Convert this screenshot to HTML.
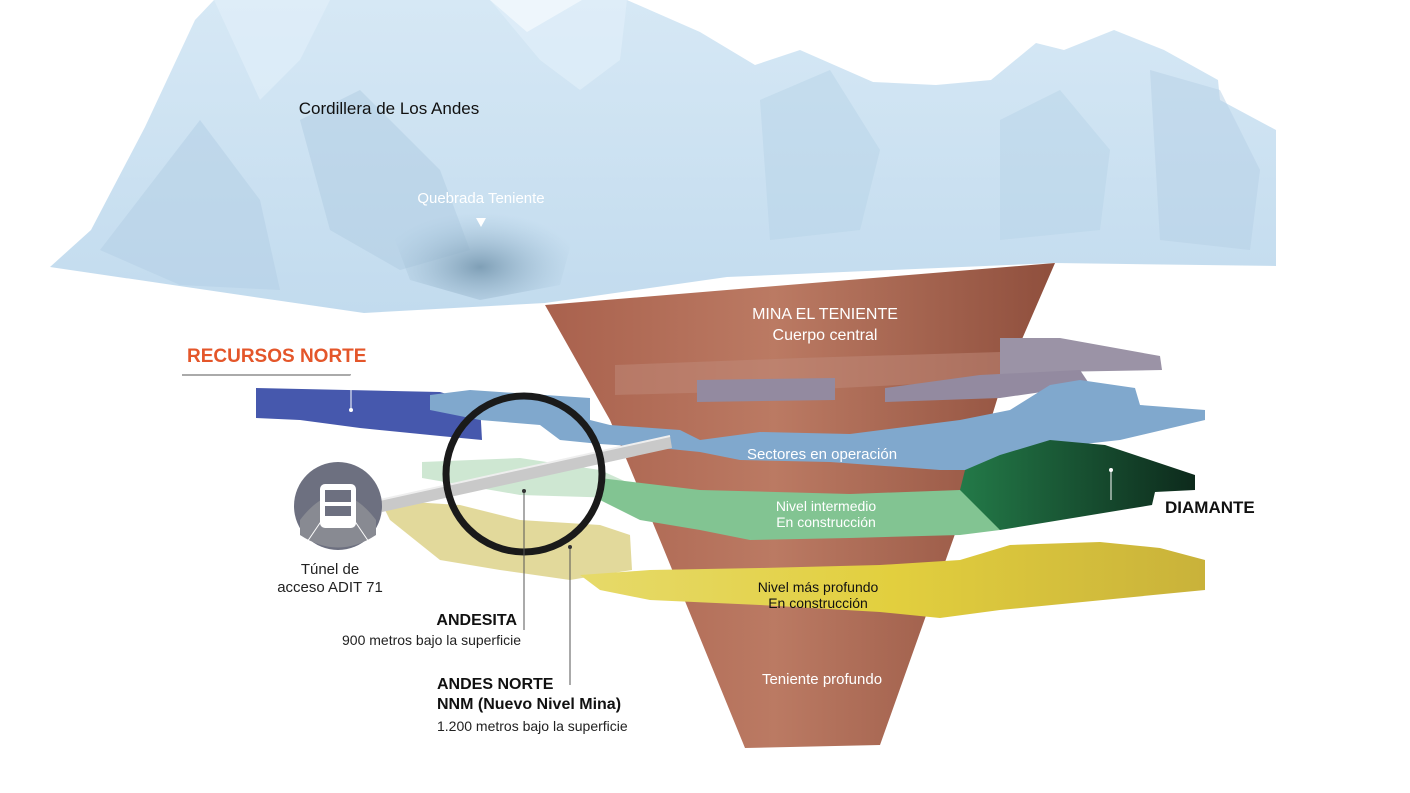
<!DOCTYPE html>
<html><head><meta charset="utf-8">
<style>
html,body{margin:0;padding:0;background:#fff;}
svg{display:block;}
text{font-family:"Liberation Sans",sans-serif;}
</style></head>
<body>
<svg width="1410" height="793" viewBox="0 0 1410 793" xmlns="http://www.w3.org/2000/svg">
<defs>
<linearGradient id="mt" x1="0" y1="0" x2="0" y2="1">
<stop offset="0" stop-color="#d6e8f5"/><stop offset="1" stop-color="#c2dbee"/></linearGradient>
<radialGradient id="vl" cx="0.5" cy="0.7" r="0.5">
<stop offset="0" stop-color="#7f9fb6"/><stop offset="1" stop-color="#a9c6dc" stop-opacity="0"/></radialGradient>
<linearGradient id="cone" x1="0" y1="0" x2="1" y2="0">
<stop offset="0" stop-color="#a9614d"/><stop offset="0.45" stop-color="#bb7a63"/><stop offset="1" stop-color="#8f4f3d"/></linearGradient>
<linearGradient id="dg" x1="0" y1="0" x2="1" y2="0">
<stop offset="0" stop-color="#237a48"/><stop offset="1" stop-color="#0d2a1c"/></linearGradient>
<linearGradient id="yl" x1="0" y1="0" x2="1" y2="0">
<stop offset="0" stop-color="#e6da6a"/><stop offset="0.5" stop-color="#e2cf3e"/><stop offset="1" stop-color="#c9b23a"/></linearGradient>
</defs>
<!-- mountains -->
<polygon fill="url(#mt)" points="50,267 91,230 145,127 195,20 214,0 490,0 527,32 582,0 627,0 700,32 755,65 800,50 873,82 936,85 991,80 1036,43 1064,50 1114,30 1164,50 1218,80 1220,100 1276,130 1276,266 1055,263 727,277 545,303 364,313 227,293"/>
<polygon fill="#b5d1e6" opacity="0.6" points="100,250 200,120 260,200 280,290 180,285"/>
<polygon fill="#b0cce2" opacity="0.5" points="300,120 360,90 440,170 470,250 400,270 330,230"/>
<polygon fill="url(#vl)" points="380,200 470,190 580,210 560,285 480,300 410,280"/>
<polygon fill="#e3f0fa" opacity="0.6" points="214,0 330,0 300,60 260,100"/>
<polygon fill="#e3f0fa" opacity="0.6" points="490,0 627,0 620,60 580,90 540,60"/>
<polygon fill="#b8d3e8" opacity="0.5" points="760,100 830,70 880,150 860,230 770,240"/>
<polygon fill="#b8d3e8" opacity="0.5" points="1000,120 1060,90 1110,150 1100,230 1000,240"/>
<polygon fill="#b5d0e6" opacity="0.5" points="1150,70 1220,90 1260,170 1250,250 1160,240"/>
<text x="389" y="114" font-size="17" text-anchor="middle" fill="#111">Cordillera de Los Andes</text>
<text x="481" y="203" font-size="15" text-anchor="middle" fill="#fff">Quebrada Teniente</text>
<polygon fill="#fff" points="476,218 486,218 481,227"/>
<!-- cone -->
<polygon fill="url(#cone)" points="545,305 1055,263 1000,390 960,520 880,745 745,748 660,540 610,420"/>
<text x="825" y="319" font-size="16" text-anchor="middle" fill="#fff">MINA EL TENIENTE</text>
<text x="825" y="340" font-size="16" text-anchor="middle" fill="#fff">Cuerpo central</text>
<text x="822" y="684" font-size="15" text-anchor="middle" fill="#fff">Teniente profundo</text>
<!-- grey slabs -->
<polygon fill="#c08a7a" opacity="0.5" points="615,365 800,358 1000,352 1000,380 800,390 615,395"/>
<polygon fill="#9b93a6" points="1000,338 1060,338 1160,356 1162,370 1050,372 1000,380"/>
<polygon fill="#938aa0" points="697,380 835,378 835,400 697,402"/>
<polygon fill="#938aa0" points="885,388 980,375 1080,370 1090,385 1000,398 885,402"/>
<!-- blue -->
<polygon fill="#4658ad" points="256,388 440,392 480,404 482,440 440,436 360,428 300,420 256,418"/>
<polygon fill="#80a8cd" points="430,395 470,390 590,398 590,420 610,425 680,430 700,440 760,432 850,434 960,420 1010,410 1050,385 1080,380 1135,388 1140,405 1205,410 1205,420 1120,440 1030,450 990,470 940,470 830,462 740,460 700,452 660,448 600,444 560,440 540,425 480,420 430,410"/>
<text x="822" y="459" font-size="15" text-anchor="middle" fill="#fff">Sectores en operación</text>
<!-- green -->
<polygon fill="#c9e4cd" opacity="0.9" points="422,462 520,458 600,470 640,488 620,498 520,495 422,478"/>
<polygon fill="#82c492" points="600,478 700,490 850,494 960,490 1000,510 1000,530 960,535 850,538 750,540 700,530 640,520 600,500"/>
<polygon fill="url(#dg)" points="965,470 1000,455 1050,440 1105,445 1195,475 1195,490 1155,492 1152,505 1000,530 960,490"/>
<text x="826" y="511" font-size="14" text-anchor="middle" fill="#fff">Nivel intermedio</text>
<text x="826" y="527" font-size="14" text-anchor="middle" fill="#fff">En construcción</text>
<line x1="1111" y1="470" x2="1111" y2="500" stroke="#fff" stroke-width="1"/>
<circle cx="1111" cy="470" r="2" fill="#fff"/>
<!-- yellow -->
<polygon fill="#ddd28a" opacity="0.85" points="380,500 460,505 520,520 600,525 630,535 632,570 600,575 570,580 500,570 440,560 390,520"/>
<polygon fill="url(#yl)" points="580,575 650,570 760,568 880,565 960,560 1010,545 1100,542 1160,548 1205,560 1205,590 1000,610 940,618 880,612 760,605 650,600 600,590"/>
<text x="818" y="592" font-size="14" text-anchor="middle" fill="#111">Nivel más profundo</text>
<text x="818" y="608" font-size="14" text-anchor="middle" fill="#111">En construcción</text>
<!-- tube -->
<polygon fill="#c9c9c9" points="380,500 670,436 672,448 382,512"/>
<line x1="380" y1="500" x2="670" y2="436" stroke="#eee" stroke-width="2"/>
<!-- bus circle -->
<circle cx="338" cy="506" r="44" fill="#6d7080"/>
<path d="M300,520 Q338,470 376,520 L376,535 Q338,560 300,535Z" fill="#888a92"/>
<rect x="320" y="484" width="36" height="44" rx="5" fill="#fff"/>
<rect x="325" y="490" width="26" height="12" fill="#6d7080"/>
<rect x="325" y="506" width="26" height="10" fill="#6d7080"/>
<line x1="322" y1="520" x2="305" y2="545" stroke="#fff"/>
<line x1="354" y1="520" x2="371" y2="545" stroke="#fff"/>
<text x="330" y="574" font-size="15" text-anchor="middle" fill="#222">Túnel de</text>
<text x="330" y="592" font-size="15" text-anchor="middle" fill="#222">acceso ADIT 71</text>
<!-- circle -->
<circle cx="524" cy="474" r="78" fill="none" stroke="#1a1a1a" stroke-width="7"/>
<!-- leaders -->
<line x1="524" y1="491" x2="524" y2="630" stroke="#555"/>
<circle cx="524" cy="491" r="2" fill="#333"/>
<line x1="570" y1="547" x2="570" y2="685" stroke="#555"/>
<circle cx="570" cy="547" r="2" fill="#333"/>
<line x1="182" y1="375" x2="351" y2="375" stroke="#555"/>
<line x1="351" y1="375" x2="351" y2="410" stroke="#fff"/>
<circle cx="351" cy="410" r="2" fill="#fff"/>
<!-- labels -->
<text x="187" y="362" font-size="19" font-weight="bold" fill="#e4562a">RECURSOS NORTE</text>
<text x="1165" y="513" font-size="17" font-weight="bold" fill="#111">DIAMANTE</text>
<text x="517" y="625" font-size="16" font-weight="bold" text-anchor="end" fill="#111">ANDESITA</text>
<text x="521" y="645" font-size="14" text-anchor="end" fill="#222">900 metros bajo la superficie</text>
<text x="437" y="689" font-size="16" font-weight="bold" fill="#111">ANDES NORTE</text>
<text x="437" y="709" font-size="16" font-weight="bold" fill="#111">NNM (Nuevo Nivel Mina)</text>
<text x="437" y="731" font-size="14" fill="#222">1.200 metros bajo la superficie</text>
</svg>
</body></html>
